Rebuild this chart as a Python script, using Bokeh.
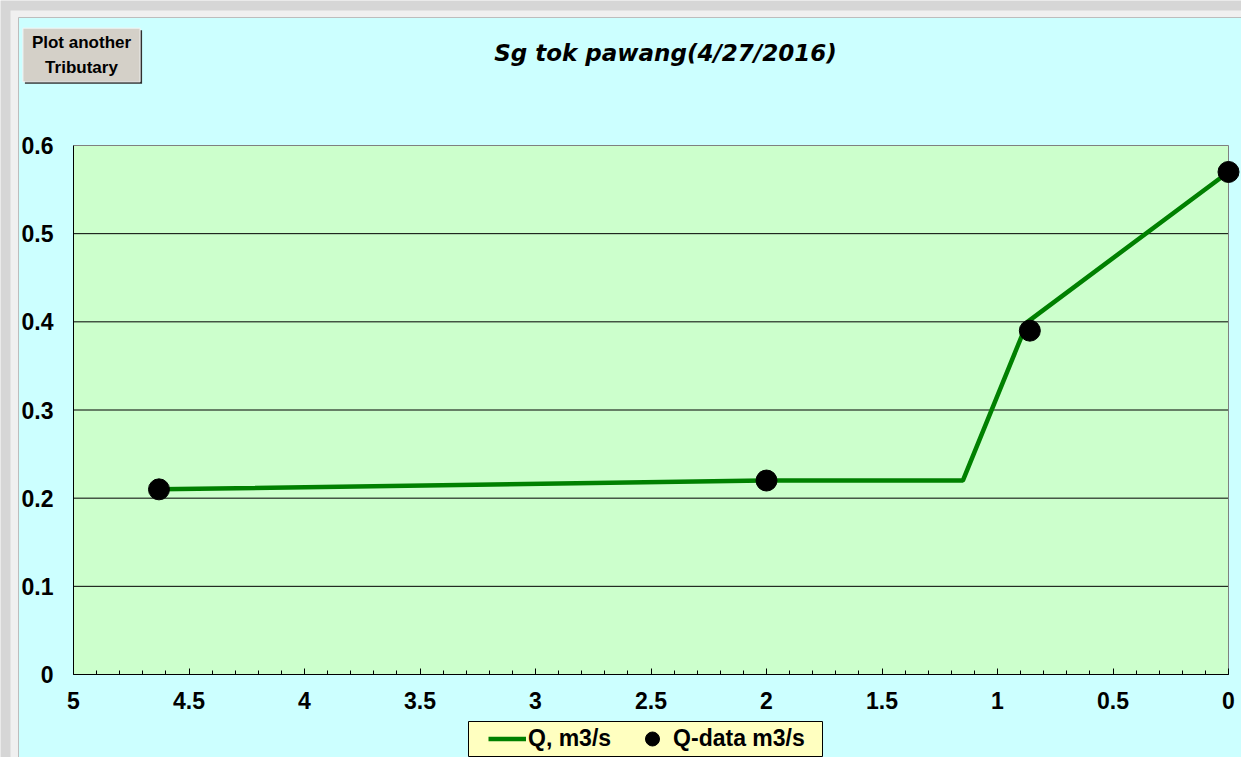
from bokeh.plotting import figure
from bokeh.models import Range1d, FixedTicker, Label, Legend, LegendItem
from bokeh.embed import file_html
from bokeh.resources import INLINE

# ---- data ----
line_x = [4.63, 2.0, 1.15, 0.87, 0.0]
line_y = [0.21, 0.22, 0.22, 0.40, 0.57]
pts_x = [4.63, 2.0, 0.86, 0.0]
pts_y = [0.21, 0.22, 0.39, 0.57]

x_ticks = [5, 4.5, 4, 3.5, 3, 2.5, 2, 1.5, 1, 0.5, 0]
x_tick_labels = ["5", "4.5", "4", "3.5", "3", "2.5", "2", "1.5", "1", "0.5", "0"]
x_minor = [round(i * 0.1, 1) for i in range(51)]
y_ticks = [0, 0.1, 0.2, 0.3, 0.4, 0.5, 0.6]
y_tick_labels = ["0", "0.1", "0.2", "0.3", "0.4", "0.5", "0.6"]
title_text = "Sg tok pawang(4/27/2016)"
button_text = "Plot another\nTributary"
legend_labels = ["Q, m3/s", "Q-data m3/s"]

# ---- layout (pixels) ----
W, H = 1241, 757
PX_LEFT, PX_RIGHT = 73, 1228      # pixel of x=5 and x=0
PX_BOTTOM, PX_TOP = 674, 145      # pixel of y=0 and y=0.6
X_HI, X_LO = x_ticks[0], x_ticks[-1]
Y_LO, Y_HI = y_ticks[0], y_ticks[-1]
sx = (PX_RIGHT - PX_LEFT) / (X_HI - X_LO)
sy = (PX_BOTTOM - PX_TOP) / (Y_HI - Y_LO)


def px_x(px):
    return X_HI - (px - PX_LEFT) / sx


def px_y(py):
    return Y_LO + (PX_BOTTOM - py) / sy


FONT = "Liberation Sans"
CYAN = "#CCFFFF"
GREEN_BG = "#CCFFCC"

p = figure(width=W, height=H, output_backend="svg", toolbar_location=None,
           x_range=Range1d(px_x(0), px_x(W)), y_range=Range1d(px_y(H), px_y(0)),
           min_border=0, min_border_left=0, min_border_right=0,
           min_border_top=0, min_border_bottom=0)
p.title.visible = False
p.border_fill_color = "#D6D6D6"
p.background_fill_color = "#D6D6D6"
p.outline_line_color = None
p.xgrid.visible = False
p.ygrid.visible = False

# outer window frame and cyan panel
p.quad(left=[px_x(10)], right=[px_x(W + 20)], top=[px_y(10)], bottom=[px_y(H + 20)],
       fill_color="#F0F0F0", line_color=None)
p.quad(left=[px_x(18)], right=[px_x(W + 20)], top=[px_y(17)], bottom=[px_y(H + 20)],
       fill_color=CYAN, line_color="#BDBDBD", line_width=1)

# plot area background
p.quad(left=[X_HI], right=[X_LO], bottom=[Y_LO], top=[Y_HI],
       fill_color=GREEN_BG, line_color=None)
# horizontal grid lines
p.segment(x0=[X_HI] * 5, x1=[X_LO] * 5, y0=y_ticks[1:-1], y1=y_ticks[1:-1],
          line_color="black", line_width=1)
# top and right border
p.segment(x0=[X_HI, X_LO], x1=[X_LO, X_LO], y0=[Y_HI, Y_LO], y1=[Y_HI, Y_HI],
          line_color="#808080", line_width=1)

r_line = p.line(line_x, line_y, line_color="#008000", line_width=4.5)
r_pts = p.scatter(pts_x, pts_y, size=21, fill_color="black", line_color="black")

# axes (real axes, drawn at fixed data locations)
xa = p.xaxis[0]
xa.fixed_location = Y_LO
xa.ticker = FixedTicker(ticks=x_ticks, minor_ticks=x_minor)
xa.major_label_overrides = {str(t): l for t, l in zip(x_ticks, x_tick_labels)}
xa.bounds = (X_LO, X_HI)
xa.major_tick_in = 6
xa.major_tick_out = 0
xa.minor_tick_in = 4
xa.minor_tick_out = 0
xa.axis_line_color = "black"
xa.major_label_standoff = 17

ya = p.yaxis[0]
ya.fixed_location = X_HI
ya.ticker = FixedTicker(ticks=y_ticks)
ya.major_label_overrides = {str(t): l for t, l in zip(y_ticks, y_tick_labels)}
ya.bounds = (Y_LO, Y_HI)
ya.major_tick_in = 0
ya.major_tick_out = 0
ya.minor_tick_in = 0
ya.minor_tick_out = 0
ya.axis_line_color = "black"
ya.major_label_standoff = 20

for ax in (xa, ya):
    ax.major_label_text_font = FONT
    ax.major_label_text_font_style = "bold"
    ax.major_label_text_font_size = "23px"
    ax.major_label_text_color = "black"

# title
p.add_layout(Label(x=px_x(665), y=px_y(52), text=title_text, text_align="center",
                   text_baseline="middle", text_font="DejaVu Sans", text_font_style="bold italic",
                   text_font_size="23px", text_color="black"))

# button: shadow + face
p.add_layout(Label(x=px_x(83), y=px_y(56.5), text=button_text, text_align="center",
                   text_baseline="middle", text_font=FONT, text_font_style="bold",
                   text_font_size="17px", text_line_height=1.3,
                   text_color="#303030", background_fill_color="#303030",
                   padding=(9, 5)))
p.add_layout(Label(x=px_x(81), y=px_y(54.5), text=button_text, text_align="center",
                   text_baseline="middle", text_font=FONT, text_font_style="bold",
                   text_font_size="17px", text_line_height=1.3,
                   text_color="black", background_fill_color="#D4D0C8",
                   border_line_color="#F4F4F4", padding=(9, 5)))

# legend box (background) and legend
LEG_L, LEG_R, LEG_T, LEG_B = 468, 822, 721, 756
p.quad(left=[px_x(LEG_L)], right=[px_x(LEG_R)], top=[px_y(LEG_T)], bottom=[px_y(LEG_B)],
       fill_color="#FFFFC0", line_color="black", line_width=1)
legend = Legend(items=[LegendItem(label=legend_labels[0], renderers=[r_line]),
                       LegendItem(label=legend_labels[1], renderers=[r_pts])],
                orientation="horizontal", location=(488, H - LEG_B),
                background_fill_alpha=0, border_line_color=None,
                label_text_font=FONT, label_text_font_style="bold",
                label_text_font_size="23px", label_text_color="black", label_standoff=2,
                glyph_width=38, glyph_height=LEG_B - LEG_T, spacing=22, padding=0, margin=0)
p.add_layout(legend)

open("out.html", "w").write(file_html(p, INLINE))
